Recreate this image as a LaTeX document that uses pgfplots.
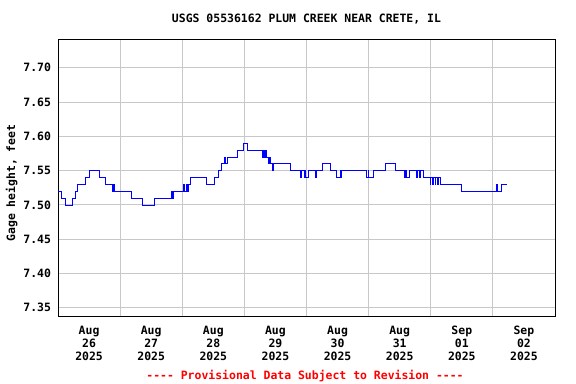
\documentclass[border=0pt]{standalone}
\usepackage{fontspec}
\setmainfont{DejaVu Sans Mono}[Ligatures=TeXOff]
\usepackage{pgfplots}
\pgfplotsset{compat=1.18}
\definecolor{gridgray}{RGB}{200,200,200}
\begin{document}
\begin{tikzpicture}
\fontsize{11.5}{13}\selectfont\bfseries
\path[use as bounding box] (0,0) rectangle (576bp,384bp);
\begin{axis}[
  at={(58bp,68bp)}, anchor=south west, scale only axis,
  width=497bp, height=277bp,
  xmin=0, xmax=8, ymin=7.338, ymax=7.742,
  font=\fontsize{11.5}{13}\selectfont\bfseries,
  /pgf/number format/assume math mode=true,
  xtick={1,2,3,4,5,6,7}, xticklabels={},
  extra x ticks={0.5,1.5,2.5,3.5,4.5,5.5,6.5,7.5},
  extra x tick labels={{Aug\\26\\2025},{Aug\\27\\2025},{Aug\\28\\2025},{Aug\\29\\2025},{Aug\\30\\2025},{Aug\\31\\2025},{Sep\\01\\2025},{Sep\\02\\2025}},
  extra x tick style={grid=none, major tick length=0pt, tick label style={align=center, yshift=-6bp}},
  ytick={7.35,7.40,7.45,7.50,7.55,7.60,7.65,7.70},
  yticklabel style={/pgf/number format/.cd, fixed, fixed zerofill, precision=2, /tikz/.cd, xshift=-3bp},
  major tick length=0pt,
  grid=major,
  major grid style={draw=gridgray, line width=0.9bp},
  axis line style={line width=0.9bp, black},
  ylabel={Gage height, feet},
  ylabel style={at={(axis description cs:-0.093,0.48)}, anchor=center, rotate=0},
  clip=true,
]
\addplot[const plot, color=blue, line width=0.8bp] table {
x y
0.000 7.52
0.048 7.51
0.113 7.50
0.231 7.51
0.274 7.52
0.317 7.53
0.445 7.54
0.500 7.55
0.666 7.54
0.767 7.53
0.875 7.52
0.891 7.53
0.907 7.52
1.186 7.51
1.357 7.50
1.550 7.51
1.819 7.52
1.840 7.51
1.856 7.52
2.017 7.53
2.035 7.52
2.060 7.53
2.080 7.52
2.098 7.53
2.130 7.54
2.393 7.53
2.516 7.54
2.580 7.55
2.634 7.56
2.680 7.57
2.699 7.56
2.720 7.57
2.892 7.58
2.983 7.59
3.047 7.58
3.295 7.57
3.310 7.58
3.325 7.57
3.340 7.58
3.355 7.57
3.386 7.56
3.400 7.57
3.415 7.56
3.450 7.55
3.460 7.56
3.745 7.55
3.895 7.54
3.915 7.55
3.960 7.54
3.975 7.55
3.990 7.54
4.030 7.55
4.137 7.54
4.164 7.55
4.260 7.56
4.389 7.55
4.475 7.54
4.545 7.55
4.555 7.54
4.566 7.55
4.958 7.54
4.990 7.55
5.000 7.54
5.076 7.55
5.264 7.56
5.425 7.55
5.575 7.54
5.590 7.55
5.610 7.54
5.655 7.55
5.774 7.54
5.790 7.55
5.810 7.54
5.830 7.55
5.881 7.54
5.988 7.53
6.000 7.54
6.020 7.53
6.041 7.54
6.068 7.53
6.080 7.54
6.100 7.53
6.120 7.54
6.149 7.53
6.498 7.52
7.061 7.53
7.075 7.52
7.142 7.53
7.233 7.53
};
\end{axis}
\node at (306.5bp,365bp) {USGS 05536162 PLUM CREEK NEAR CRETE, IL};
\node[text=red] at (305bp,8bp) {---- Provisional Data Subject to Revision ----};
\end{tikzpicture}
\end{document}
